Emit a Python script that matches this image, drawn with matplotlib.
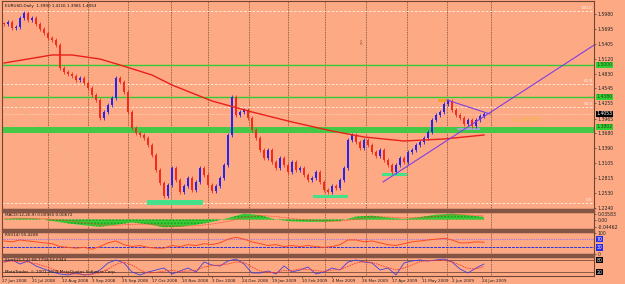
import numpy as np
import matplotlib.pyplot as plt
import matplotlib.transforms as mtransforms
from matplotlib.patches import Rectangle

BG = '#FDAA84'
FRAME = '#6E4536'
BAND = '#845444'
GRIDC = '#5A3325'
UP = '#2424F0'
DOWN = '#F52A1E'
VIOLET = '#7F3FE0'
LINEGREEN = '#33CC33'
MINT = '#45E08A'
WICK = 0.0035

# ---- price data (bar index = ~2 trading days) ----
first_open = 1.5800
closes = [
    1.5787, 1.5826, 1.5710, 1.5729, 1.5903, 1.5999, 1.5864, 1.5903, 1.5787, 1.5691,
    1.5614, 1.5517, 1.5479, 1.5382, 1.4939, 1.4862, 1.4823, 1.4785, 1.4707, 1.4746,
    1.4650, 1.4553, 1.4418, 1.4322, 1.3975, 1.4091, 1.4226, 1.4360, 1.4746, 1.4669,
    1.4476, 1.4091, 1.3782, 1.3686, 1.3647, 1.3589, 1.3454, 1.3262, 1.2972, 1.2722,
    1.2471, 1.2683, 1.3011, 1.2780, 1.2548, 1.2664, 1.2818, 1.2587, 1.2741, 1.3011,
    1.2876, 1.2683, 1.2567, 1.2664, 1.2818, 1.3069, 1.3647, 1.4380, 1.4033, 1.4091,
    1.4129, 1.3975, 1.3744, 1.3589, 1.3358, 1.3204, 1.3358, 1.3127, 1.3011, 1.3204,
    1.3069, 1.2934, 1.3127, 1.2972, 1.3011, 1.2876, 1.2780, 1.2818, 1.2934, 1.2741,
    1.2587, 1.2548, 1.2664, 1.2625, 1.2780, 1.3011, 1.3551, 1.3647, 1.3512, 1.3396,
    1.3551, 1.3454, 1.3319, 1.3242, 1.3358, 1.3165, 1.3069, 1.2934, 1.3069, 1.3204,
    1.3127, 1.3319, 1.3358, 1.3454, 1.3512, 1.3589, 1.3705, 1.3936, 1.4033, 1.4091,
    1.4245, 1.4303, 1.4129, 1.4033, 1.3975, 1.3859, 1.3936, 1.3821, 1.3936, 1.4013,
    1.4053,
]

ma_idx = [0, 12, 17, 24, 29, 37, 42, 52, 62, 72, 82, 90, 100, 110, 120]
ma_val = [1.5035, 1.5190, 1.5190, 1.5112, 1.4997, 1.4804, 1.4611, 1.4303, 1.4091,
          1.3898, 1.3724, 1.3609, 1.3531, 1.3570, 1.3647]

price_ticks = [1.5980, 1.5695, 1.5405, 1.5120, 1.4830, 1.4545, 1.4255, 1.3965,
               1.3680, 1.3390, 1.3105, 1.2815, 1.2530, 1.2240]

fib_high = 1.6038
fib_low = 1.2329
fib_pct = [100.0, 61.8, 50.0, 0.0]

green_lines = [1.5000, 1.4380]
green_band = (1.3686, 1.3802)
bid = 1.4053

# ---- MACD ----
macd_idx = list(range(0, 121, 4))
macd_val = [0.003, 0.009, 0.006, -0.009, -0.024, -0.036, -0.045, -0.033, -0.018, -0.030,
            -0.048, -0.045, -0.033, -0.015, 0.009, 0.036, 0.027, 0.000, -0.012, -0.015,
            -0.015, -0.009, 0.018, 0.024, 0.012, 0.003, 0.015, 0.030, 0.036, 0.027, 0.015]
macd_sig = [0.008, 0.008, 0.007, 0.002, -0.008, -0.020, -0.032, -0.036, -0.030, -0.029,
            -0.037, -0.042, -0.039, -0.028, -0.012, 0.012, 0.026, 0.018, 0.006, -0.004,
            -0.010, -0.010, 0.002, 0.015, 0.016, 0.010, 0.011, 0.020, 0.029, 0.029, 0.022]

# ---- RSI / Stoch (every 2nd bar) ----
osc_idx = list(range(0, 121, 2))
rsi_val = [61, 57, 66, 61, 57, 52, 48, 34, 30, 26, 30, 21, 34, 52, 61, 43, 34, 39, 30, 26,
           26, 39, 34, 43, 39, 48, 43, 52, 70, 79, 70, 57, 48, 39, 43, 34, 39, 34, 39, 34,
           30, 34, 43, 66, 66, 57, 61, 52, 43, 39, 48, 57, 61, 66, 70, 74, 66, 52, 52, 57, 55]
stoch_main = [70, 80, 60, 75, 50, 35, 20, 10, 5, 15, 5, 10, 30, 65, 80, 65, 20, 5, 20, 30,
              40, 10, 25, 40, 20, 70, 55, 50, 75, 85, 60, 15, 15, 25, 10, 50, 20, 30, 45, 10,
              20, 40, 30, 70, 80, 70, 65, 30, 40, 5, 65, 75, 80, 75, 80, 85, 70, 35, 15, 40, 60]
stoch_sig = [70, 75, 72, 70, 62, 50, 35, 22, 12, 10, 8, 8, 16, 35, 58, 70, 55, 30, 15, 18,
             25, 28, 22, 25, 28, 45, 52, 55, 60, 70, 68, 45, 25, 18, 17, 28, 27, 35, 32, 28,
             22, 30, 32, 48, 65, 72, 68, 55, 42, 30, 40, 55, 72, 77, 78, 78, 72, 55, 38, 35, 48]

date_pos = [-0.5, 7.0, 14.5, 22.0, 29.5, 37.0, 44.5, 52.0, 59.5, 67.0, 74.5, 82.0,
            89.5, 97.0, 104.5, 112.0, 119.5]
date_lbl = ['27 Jun 2008', '21 Jul 2008', '12 Aug 2008', '3 Sep 2008', '25 Sep 2008',
            '17 Oct 2008', '10 Nov 2008', '3 Dec 2008', '24 Dec 2008', '19 Jan 2009',
            '10 Feb 2009', '4 Mar 2009', '26 Mar 2009', '17 Apr 2009', '11 May 2009',
            '2 Jun 2009', '24 Jun 2009']
grid_pos = [11, 21, 31, 41.75, 51, 61.25, 71, 80.25, 90.5, 100.75, 110.75, 121.75]

FS = 3.0
FSY = 3.3
XR = 147.5

fig = plt.figure(figsize=(6.25, 2.84), dpi=100)
fig.patch.set_facecolor(BG)


def box(x0, y0, x1, y1):
    return [x0 / 625, 1 - y1 / 284, (x1 - x0) / 625, (y1 - y0) / 284]


ax = fig.add_axes(box(2, 1, 594, 209))
ax_m = fig.add_axes(box(2, 212, 594, 229))
ax_r = fig.add_axes(box(2, 232, 594, 254))
ax_s = fig.add_axes(box(2, 257, 594, 276))

# separator bands
for y0, y1 in [(209, 212), (229, 232), (254, 257)]:
    fig.patches.append(Rectangle((2 / 625, 1 - y1 / 284), 592 / 625, (y1 - y0) / 284,
                                 transform=fig.transFigure, color=BAND, zorder=0))

for a in (ax, ax_m, ax_r, ax_s):
    a.set_facecolor(BG)
    a.set_xlim(-0.5, XR)
    for s in a.spines.values():
        s.set_color(FRAME)
        s.set_linewidth(0.8)
    a.yaxis.tick_right()
    a.tick_params(axis='y', labelsize=FSY, length=1.5, width=0.4, pad=1, colors='#222222')
    a.tick_params(axis='x', length=0, labelbottom=False)
    for g in grid_pos:
        a.axvline(g, color=GRIDC, lw=0.5, ls=(0, (1.2, 1.2)), zorder=0.5)


def axis_box(a, val, txt, fc, tc='white'):
    tr = mtransforms.blended_transform_factory(a.transAxes, a.transData)
    a.text(1.004, val, txt, transform=tr, fontsize=FSY, color=tc, va='center', ha='left',
           bbox=dict(boxstyle='square,pad=0.15', fc=fc, ec='none'), clip_on=False, zorder=5)


# ---- main chart ----
ax.set_ylim(1.2220, 1.6231)
ax.set_yticks(price_ticks)
ax.set_yticklabels([f'{p:.4f}' for p in price_ticks])

rng = fib_high - fib_low
for pct in fib_pct:
    lvl = fib_low + pct / 100 * rng
    ax.axhline(lvl, color='#FFF1E8', lw=0.6, ls=(0, (3, 2)), zorder=1)
    ax.text(XR - 0.4, lvl + 0.002, f'{pct:.1f}', fontsize=FS, color='#FFF1E8',
            ha='right', va='bottom', zorder=2)
ax.axhline(bid, color='#FFE6D8', lw=0.5, ls=(0, (1, 1.5)), zorder=1)

for g in green_lines:
    ax.axhline(g, color=LINEGREEN, lw=1.0, zorder=2)
    axis_box(ax, g, f'{g:.4f}', LINEGREEN, '#1A4A1A')
ax.axhspan(*green_band, color='#45C845', lw=0, zorder=2)
axis_box(ax, green_band[1], f'{green_band[1]:.4f}', LINEGREEN, '#1A4A1A')
axis_box(ax, bid, f'{bid:.4f}', 'black')

# fib diagonal
ax.plot([-0.5, 27.25], [1.4534, 1.2317], color='#C8B878', lw=0.6, ls=(0, (1, 1.5)), zorder=1)

# support marks
ax.add_patch(Rectangle((35.75, 1.2300), 14.0, 0.0090, color=MINT, lw=0, zorder=3))
ax.add_patch(Rectangle((77.25, 1.2432), 8.75, 0.0058, color=MINT, lw=0, zorder=3))
ax.add_patch(Rectangle((94.5, 1.2857), 6.25, 0.0058, color=MINT, lw=0, zorder=3))
ax.add_patch(Rectangle((113.25, 1.3744), 5.75, 0.0038, color='#9AA8C8', lw=0, zorder=3))
ax.add_patch(Rectangle((108.5, 1.4283), 2.25, 0.0058, color='#F5A030', lw=0, zorder=3))

# candles
idx = np.arange(len(closes))
c = np.array(closes)
o = np.array([first_open] + closes[:-1])
col = np.where(c >= o, UP, DOWN)
ax.vlines(idx, np.minimum(o, c) - WICK, np.maximum(o, c) + WICK, colors=col, lw=0.6, zorder=4)
ax.bar(idx, np.maximum(np.abs(c - o), 0.0008), bottom=np.minimum(o, c), width=0.55,
       color=col, lw=0, zorder=4)

ax.plot(ma_idx, ma_val, color='#E8201A', lw=1.0, zorder=4)

# trend lines
ax.plot([94.75, XR], [1.2741, 1.5380], color=VIOLET, lw=0.8, zorder=5)
ax.plot([110.75, 121.5], [1.4322, 1.4052], color=VIOLET, lw=0.8, zorder=5)

ax.text(126.5, 1.3936, '<--39.55', fontsize=5, color='#F0B838', va='center', zorder=5)
ax.text(89, 1.5421, '\u21e9', fontsize=4, color='#8B4513', ha='center', va='center')
ax.text(0.005, 0.985, 'EURUSD,Daily  1.3990 1.4116 1.3981 1.4053', transform=ax.transAxes,
        fontsize=FS, va='top', color='#111111')

# ---- MACD ----
ax_m.set_ylim(-0.0589, 0.0465)
ax_m.fill_between(macd_idx, 0, macd_val, facecolor='#38CF38', edgecolor='#1E9A1E',
                  hatch='.....', lw=0, zorder=2)
ax_m.plot(macd_idx, macd_sig, color='#FF3A2A', lw=0.6, ls=(0, (1, 1)), zorder=3)
ax_m.set_yticks([0.03583, 0.0, -0.04462])
ax_m.set_yticklabels(['0.03583', '0.00', '-0.04462'])
ax_m.text(0.005, 0.95, 'MACD(12,26,9) 0.00955 0.00672', transform=ax_m.transAxes,
          fontsize=FS, va='top', color='#111111')

# ---- RSI ----
ax_r.set_ylim(-2.4, 104.9)
ax_r.axhline(70, color='#A070F0', lw=0.8, ls=(0, (1, 1)), zorder=1)
ax_r.axhline(30, color='#3030E0', lw=0.7, ls=(0, (3, 1)), zorder=1)
ax_r.plot(osc_idx, rsi_val, color='#FF4A1A', lw=0.7, zorder=3)
ax_r.set_yticks([100, 0])
ax_r.set_yticklabels(['100', '0'])
axis_box(ax_r, 70, '70', '#2A2AE8')
axis_box(ax_r, 30, '30', '#2A2AE8')
ax_r.text(0.005, 0.97, 'RSI(14) 55.4208', transform=ax_r.transAxes,
          fontsize=FS, va='top', color='#111111')

# ---- Stochastic ----
ax_s.set_ylim(0, 95)
ax_s.axhline(80, color='#7A4A3A', lw=0.6, zorder=1)
ax_s.axhline(20, color='#7A4A3A', lw=0.6, zorder=1)
ax_s.plot(osc_idx, stoch_main, color='#3F3FE0', lw=0.6, zorder=3)
ax_s.plot(osc_idx, stoch_sig, color='#FF3A2A', lw=0.6, ls=(0, (2, 1)), zorder=3)
ax_s.set_yticks([])
axis_box(ax_s, 80, '80', 'black')
axis_box(ax_s, 20, '20', 'black')
ax_s.text(0.005, 0.97, 'Stoch(5,3,3) 68.7794 64.6444', transform=ax_s.transAxes,
          fontsize=FS, va='top', color='#111111')
ax_s.text(0.005, 0.08, 'MetaTrader, \u00a9 2001-2009 MetaQuotes Software Corp.',
          transform=ax_s.transAxes, fontsize=FS, va='bottom', color='#111111')

ax_s.set_xticks(date_pos)
ax_s.set_xticklabels(date_lbl)
ax_s.tick_params(axis='x', labelbottom=True, labelsize=FS, length=1.5, width=0.4,
                 pad=1, colors='#222222')
for t in ax_s.get_xticklabels():
    t.set_ha('left')

fig.savefig('out.png', dpi=100, facecolor=BG)
